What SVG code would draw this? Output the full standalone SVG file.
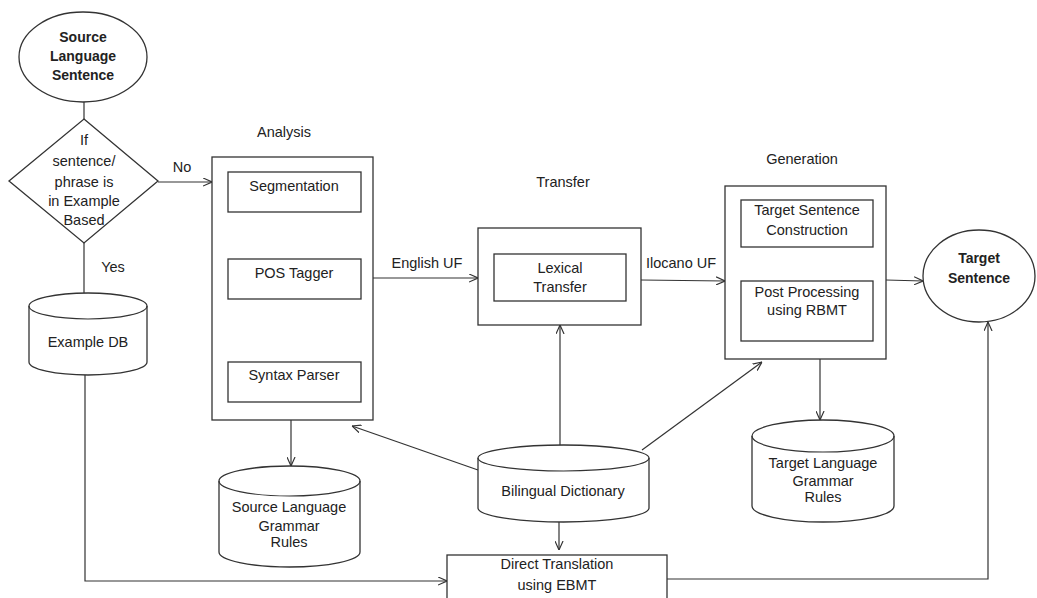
<svg xmlns="http://www.w3.org/2000/svg" width="1037" height="598" viewBox="0 0 1037 598">
<style>
.s{fill:#fff;stroke:#333;stroke-width:1.3}
.c{fill:none;stroke:#333;stroke-width:1.2}
.t{font-family:"Liberation Sans",Arial,sans-serif;font-size:14.5px;fill:#222;text-anchor:middle}
.b{font-weight:bold;font-size:14px}
</style>
<defs>
<marker id="a" viewBox="0 0 10 10" refX="10" refY="5" markerWidth="9" markerHeight="9" markerUnits="userSpaceOnUse" orient="auto">
<path d="M0,0.5 L10,5 L0,9.5" fill="none" stroke="#333" stroke-width="1.3"/>
</marker>
</defs>
<rect width="1037" height="598" fill="#fff"/>
<g id="connectors" class="c">
<line x1="84" y1="102" x2="84" y2="119"/>
<line x1="84" y1="243" x2="84" y2="293"/>
<line x1="158" y1="182" x2="212" y2="182" marker-end="url(#a)"/>
<polyline points="85,375 85,581 447,581" marker-end="url(#a)"/>
<line x1="292" y1="212" x2="292" y2="259" marker-end="url(#a)"/>
<line x1="293" y1="299" x2="293" y2="362" marker-end="url(#a)"/>
<line x1="291" y1="420" x2="291" y2="466" marker-end="url(#a)"/>
<line x1="373" y1="278" x2="478" y2="278" marker-end="url(#a)"/>
<line x1="641" y1="280" x2="725" y2="281" marker-end="url(#a)"/>
<line x1="807" y1="247" x2="807" y2="281" marker-end="url(#a)"/>
<line x1="886" y1="280" x2="923" y2="281" marker-end="url(#a)"/>
<line x1="820" y1="359" x2="820" y2="420" marker-end="url(#a)"/>
<line x1="560" y1="445" x2="560" y2="325" marker-end="url(#a)"/>
<line x1="478" y1="470" x2="352" y2="426" marker-end="url(#a)"/>
<line x1="642" y1="450" x2="762" y2="362" marker-end="url(#a)"/>
<line x1="559" y1="522" x2="559" y2="550" marker-end="url(#a)"/>
<polyline points="667,579 988,579 988,322" marker-end="url(#a)"/>
</g>
<g id="source">
<ellipse class="s" cx="83" cy="57" rx="64" ry="45"/>
<text class="t b" x="83" y="42">Source</text>
<text class="t b" x="83" y="61">Language</text>
<text class="t b" x="83" y="80">Sentence</text>
</g>
<g id="decision">
<polygon class="s" points="84,119 158,181 84,243 9,181"/>
<text class="t" x="84" y="145">If</text>
<text class="t" x="84" y="166">sentence/</text>
<text class="t" x="84" y="187">phrase is</text>
<text class="t" x="84" y="206">in Example</text>
<text class="t" x="84" y="225">Based</text>
</g>
<text class="t" x="182" y="172">No</text>
<text class="t" x="113" y="272">Yes</text>
<g id="exampledb">
<path class="s" d="M29,306 L29,362 A59,13 0 0 0 147,362 L147,306 A59,13 0 0 0 29,306 Z"/>
<path class="c" d="M29,306 A59,13 0 0 0 147,306"/>
<text class="t" x="88" y="347">Example DB</text>
</g>
<text class="t" x="284" y="137">Analysis</text>
<g id="analysis">
<rect class="s" x="212" y="157" width="161" height="263"/>
</g>
<g id="segmentation">
<rect class="s" x="228" y="172" width="133" height="40"/>
<text class="t" x="294" y="191">Segmentation</text>
</g>
<g id="postagger">
<rect class="s" x="228" y="259" width="133" height="40"/>
<text class="t" x="294" y="278">POS Tagger</text>
</g>
<g id="syntaxparser">
<rect class="s" x="228" y="362" width="133" height="40"/>
<text class="t" x="294" y="380">Syntax Parser</text>
</g>
<text class="t" x="427" y="268">English UF</text>
<text class="t" x="563" y="187">Transfer</text>
<g id="transfer">
<rect class="s" x="478" y="228" width="163" height="97"/>
</g>
<g id="lexical">
<rect class="s" x="494" y="254" width="132" height="47"/>
<text class="t" x="560" y="273">Lexical</text>
<text class="t" x="560" y="292">Transfer</text>
</g>
<text class="t" x="681" y="268">Ilocano UF</text>
<text class="t" x="802" y="164">Generation</text>
<g id="generation">
<rect class="s" x="725" y="186" width="161" height="173"/>
</g>
<g id="construction">
<rect class="s" x="741" y="200" width="132" height="47"/>
<text class="t" x="807" y="215">Target Sentence</text>
<text class="t" x="807" y="235">Construction</text>
</g>
<g id="postprocessing">
<rect class="s" x="741" y="281" width="132" height="60"/>
<text class="t" x="807" y="297">Post Processing</text>
<text class="t" x="807" y="315">using RBMT</text>
</g>
<g id="target">
<ellipse class="s" cx="979" cy="276" rx="56" ry="46"/>
<text class="t b" x="979" y="263">Target</text>
<text class="t b" x="979" y="283">Sentence</text>
</g>
<g id="sourcegrammar">
<path class="s" d="M219,481 L219,552 A70.5,15 0 0 0 360,552 L360,481 A70.5,15 0 0 0 219,481 Z"/>
<path class="c" d="M219,481 A70.5,15 0 0 0 360,481"/>
<text class="t" x="289" y="512">Source Language</text>
<text class="t" x="289" y="531">Grammar</text>
<text class="t" x="289" y="547">Rules</text>
</g>
<g id="bilingual">
<path class="s" d="M478,458 L478,508 A85.5,14 0 0 0 649,508 L649,458 A85.5,13 0 0 0 478,458 Z"/>
<path class="c" d="M478,458 A85.5,13 0 0 0 649,458"/>
<text class="t" x="563" y="496">Bilingual Dictionary</text>
</g>
<g id="targetgrammar">
<path class="s" d="M752,436 L752,506 A71,16 0 0 0 894,506 L894,436 A71,16 0 0 0 752,436 Z"/>
<path class="c" d="M752,436 A71,16 0 0 0 894,436"/>
<text class="t" x="823" y="468">Target Language</text>
<text class="t" x="823" y="486">Grammar</text>
<text class="t" x="823" y="502">Rules</text>
</g>
<g id="direct">
<rect class="s" x="447" y="555" width="220" height="60"/>
<text class="t" x="557" y="569">Direct Translation</text>
<text class="t" x="557" y="590">using EBMT</text>
</g>
</svg>
